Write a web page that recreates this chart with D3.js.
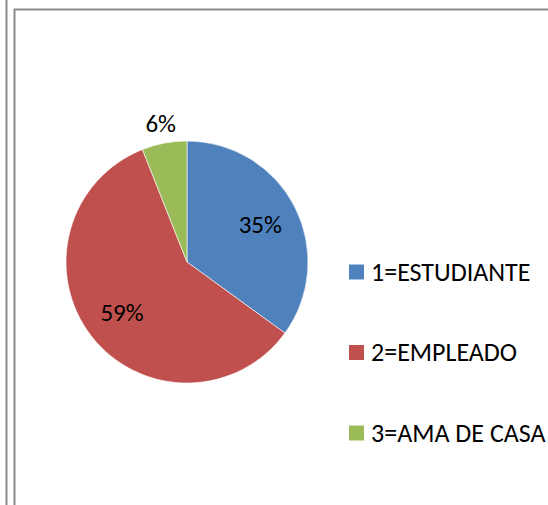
<!DOCTYPE html>
<html><head><meta charset="utf-8">
<script src="https://cdn.jsdelivr.net/npm/d3@7"></script>
<style>html,body{margin:0;padding:0;background:#fff;}svg{display:block;}</style>
</head><body>
<script>
const categories = ["1=ESTUDIANTE", "2=EMPLEADO", "3=AMA DE CASA"];
const values = [35, 59, 6];
const labels = ["35%", "59%", "6%"];
const colors = ["#4F81BD", "#C0504D", "#9BBB59"];

const W = 548, H = 505;
const svg = d3.select("body").append("svg").attr("width", W).attr("height", H);

// frame lines
svg.append("line").attr("x1", 6.5).attr("x2", 6.5).attr("y1", 0).attr("y2", H).attr("stroke", "#8c8c8c").attr("stroke-width", 2);
svg.append("line").attr("x1", 14.5).attr("x2", 14.5).attr("y1", 9).attr("y2", H).attr("stroke", "#8c8c8c").attr("stroke-width", 2);
svg.append("line").attr("x1", 14).attr("x2", W).attr("y1", 9.5).attr("y2", 9.5).attr("stroke", "#8c8c8c").attr("stroke-width", 2);

const cx = 187, cy = 262, r = 121;
const pie = d3.pie().sort(null).value(d => d);
const arcs = pie(values);
const arc = d3.arc().innerRadius(0).outerRadius(r);
const g = svg.append("g").attr("transform", `translate(${cx},${cy})`);
g.selectAll("path").data(arcs).join("path")
  .attr("d", arc).attr("fill", (d, i) => colors[i])
  .attr("stroke", "#fff").attr("stroke-width", 0.6);

const font = "Carlito, Calibri, 'Open Sans', sans-serif";
g.selectAll("text.lbl").data(arcs).join("text").attr("class", "lbl")
  .attr("transform", d => {
    const frac = (d.endAngle - d.startAngle) / (2 * Math.PI);
    const rr = frac < 0.1 ? r * 1.16 : r * 0.68;
    const a = (d.startAngle + d.endAngle) / 2;
    return `translate(${Math.sin(a) * rr},${-Math.cos(a) * rr})`;
  })
  .attr("text-anchor", "middle").attr("dy", "0.33em")
  .style("font-family", font).style("font-size", "25px").attr("fill", "#000")
  .text((d, i) => labels[i]);

const legY = d3.scalePoint().domain(categories).range([272, 433]);
const leg = svg.append("g");
categories.forEach((c, i) => {
  const y = legY(c);
  leg.append("rect").attr("x", 349).attr("y", y - 7.5).attr("width", 15).attr("height", 15).attr("fill", colors[i]);
  leg.append("text").attr("x", 371).attr("y", y).attr("dy", "0.33em")
    .style("font-family", font).style("font-size", "26px").attr("fill", "#000").text(c);
});
</script>
</body></html>
